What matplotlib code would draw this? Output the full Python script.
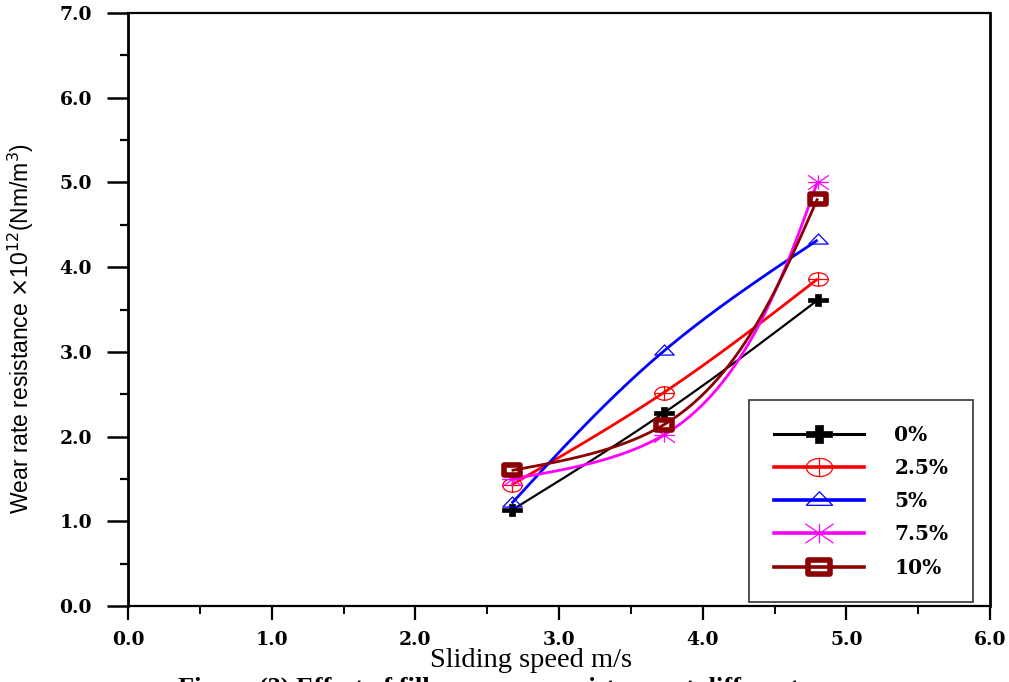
import numpy as np
import matplotlib
matplotlib.use("Agg")
import matplotlib.pyplot as plt
from matplotlib.path import Path
from matplotlib.ticker import MultipleLocator, FormatStrFormatter

# ---- data ----
speed = [2.67, 3.73, 4.80]
labels = ["0%", "2.5%", "5%", "7.5%", "10%"]
wear_0 = [1.13, 2.28, 3.61]
wear_2_5 = [1.43, 2.52, 3.86]
wear_5 = [1.21, 3.01, 4.32]
wear_7_5 = [1.50, 2.02, 5.01]
wear_10 = [1.60, 2.14, 4.81]
x_ticks = [0.0, 1.0, 2.0, 3.0, 4.0, 5.0, 6.0]
y_ticks = [0.0, 1.0, 2.0, 3.0, 4.0, 5.0, 6.0, 7.0]

W, H = 1009, 682
fig = plt.figure(figsize=(W / 100, H / 100), dpi=100)
ax = fig.add_axes([128 / W, 1 - 606 / H, 862 / W, 593 / H])
ax.set_xlim(0, 6)
ax.set_ylim(0, 7)


def natural_spline(t, v, tt):
    """Natural cubic spline of v(t) evaluated at tt."""
    t = np.asarray(t, float)
    v = np.asarray(v, float)
    n = len(t)
    h = np.diff(t)
    A = np.zeros((n, n))
    r = np.zeros(n)
    A[0, 0] = A[-1, -1] = 1.0
    for i in range(1, n - 1):
        A[i, i - 1] = h[i - 1]
        A[i, i] = 2 * (h[i - 1] + h[i])
        A[i, i + 1] = h[i]
        r[i] = 6 * ((v[i + 1] - v[i]) / h[i] - (v[i] - v[i - 1]) / h[i - 1])
    M = np.linalg.solve(A, r)
    out = np.empty_like(tt)
    for k, x in enumerate(tt):
        i = min(max(np.searchsorted(t, x) - 1, 0), n - 2)
        a = (t[i + 1] - x) / h[i]
        b = (x - t[i]) / h[i]
        out[k] = (a * v[i] + b * v[i + 1]
                  + ((a ** 3 - a) * M[i] + (b ** 3 - b) * M[i + 1]) * h[i] ** 2 / 6)
    return out


def smooth_curve(xs, ys, n=200):
    """Parametric spline through the points, parameterised by on-screen chord length."""
    sx, sy = 143.7, 84.7  # pixels per data unit on each axis
    px = np.asarray(xs) * sx
    py = np.asarray(ys) * sy
    t = np.concatenate([[0], np.cumsum(np.hypot(np.diff(px), np.diff(py)))])
    tt = np.linspace(0, t[-1], n)
    return natural_spline(t, px, tt) / sx, natural_spline(t, py, tt) / sy


# ---- marker shapes (wider than tall) ----
def path_plus():
    a, b, tx, ty = 1.5, 1.0, 0.42, 0.30
    v = [(-a, -ty), (-tx, -ty), (-tx, -b), (tx, -b), (tx, -ty), (a, -ty),
         (a, ty), (tx, ty), (tx, b), (-tx, b), (-tx, ty), (-a, ty), (-a, -ty)]
    return Path(v, closed=True)


def path_circle_cross():
    circ = Path.unit_circle()
    circ = Path(circ.vertices * [1.45, 1.0], circ.codes)
    h = Path([(-1.45, 0), (1.45, 0)], [Path.MOVETO, Path.LINETO])
    v = Path([(0, -1), (0, 1)], [Path.MOVETO, Path.LINETO])
    return Path.make_compound_path(circ, h, v)


def path_triangle():
    return Path([(-1.5, -0.55), (1.5, -0.55), (0, 1.0), (-1.5, -0.55)], closed=True)


def path_asterisk():
    segs = [[(-1.45, 0), (1.45, 0)], [(0, -1), (0, 1)],
            [(-1.45, -1), (1.45, 1)], [(-1.45, 1), (1.45, -1)]]
    return Path.make_compound_path(*[Path(s, [Path.MOVETO, Path.LINETO]) for s in segs])


def path_rect():
    return Path([(-1.5, -1), (1.5, -1), (1.5, 1), (-1.5, 1), (-1.5, -1)], closed=True)


series = [
    (wear_0, "black", 1.6, dict(marker=path_plus(), markersize=14, mfc="black", mec="black", mew=0.5)),
    (wear_2_5, "#ff0000", 2.0, dict(marker=path_circle_cross(), markersize=14, mfc="none", mec="#ff0000", mew=0.9)),
    (wear_5, "#0000ff", 2.0, dict(marker=path_triangle(), markersize=14, mfc="none", mec="#0000ff", mew=0.9)),
    (wear_7_5, "#ff00ff", 2.0, dict(marker=path_asterisk(), markersize=15, mfc="none", mec="#ff00ff", mew=0.9)),
    (wear_10, "#8b0000", 2.0, dict(marker=path_rect(), markersize=11.5, mfc="none", mec="#8b0000", mew=4.0)),
]

handles = []
for ys, color, lw, mk in series:
    cx, cy = smooth_curve(speed, ys)
    ax.plot(cx, cy, color=color, lw=lw, zorder=2, solid_capstyle="butt")
    ax.plot(speed, ys, linestyle="none", zorder=3, **mk)
    handles.append(plt.Line2D([], [], color=color, lw=lw + 0.6, **mk))

# ---- axes styling ----
for s in ax.spines.values():
    s.set_linewidth(1.6)
ax.spines["left"].set_linewidth(2.0)
ax.spines["right"].set_linewidth(2.0)
ax.xaxis.set_minor_locator(MultipleLocator(0.5))
ax.yaxis.set_minor_locator(MultipleLocator(0.5))
ax.set_xticks(x_ticks)
ax.set_yticks(y_ticks)
ax.xaxis.set_major_formatter(FormatStrFormatter("%.1f"))
ax.yaxis.set_major_formatter(FormatStrFormatter("%.1f"))
ax.tick_params(axis="x", which="major", direction="out", length=10, width=1.6, pad=8)
ax.tick_params(axis="x", which="minor", direction="out", length=5.5, width=1.4)
ax.tick_params(axis="y", which="major", direction="out", length=15, width=1.8, pad=11)
ax.tick_params(axis="y", which="minor", direction="out", length=5.5, width=1.6)
for lab in ax.get_xticklabels() + ax.get_yticklabels():
    lab.set_fontfamily("DejaVu Serif")
    lab.set_fontweight("bold")
    lab.set_fontsize(13.5)

ax.set_xlabel("Sliding speed m/s", family="Liberation Serif", fontsize=20.5)
ax.xaxis.set_label_coords((531 - 128) / 862, (606 - 648) / 593)
ax.set_ylabel(r"Wear rate resistance $\times$10$^{12}$(Nm/m$^{3}$)",
              family="Liberation Sans", fontsize=16.5)
ax.yaxis.set_label_coords((36 - 128) / 862, (606 - 328) / 593)

leg = ax.legend(handles, labels, loc="upper left",
                bbox_to_anchor=((749 - 128) / 862, (606 - 400) / 593),
                borderaxespad=0, borderpad=1.22, handlelength=4.5, handletextpad=1.5,
                labelspacing=0.66, markerscale=1.35, fancybox=False,
                prop=dict(family="DejaVu Serif", weight="bold", size=14.5))
leg.get_frame().set_edgecolor("black")
leg.get_frame().set_linewidth(1.2)

fig.text(178 / W, 1 - 676.5 / H,
         "Figure (3) Effect of filler on wear resistance at different",
         ha="left", va="top", family="Liberation Serif", fontweight="bold", fontsize=19)

fig.savefig("out.png", dpi=100, facecolor="white")
